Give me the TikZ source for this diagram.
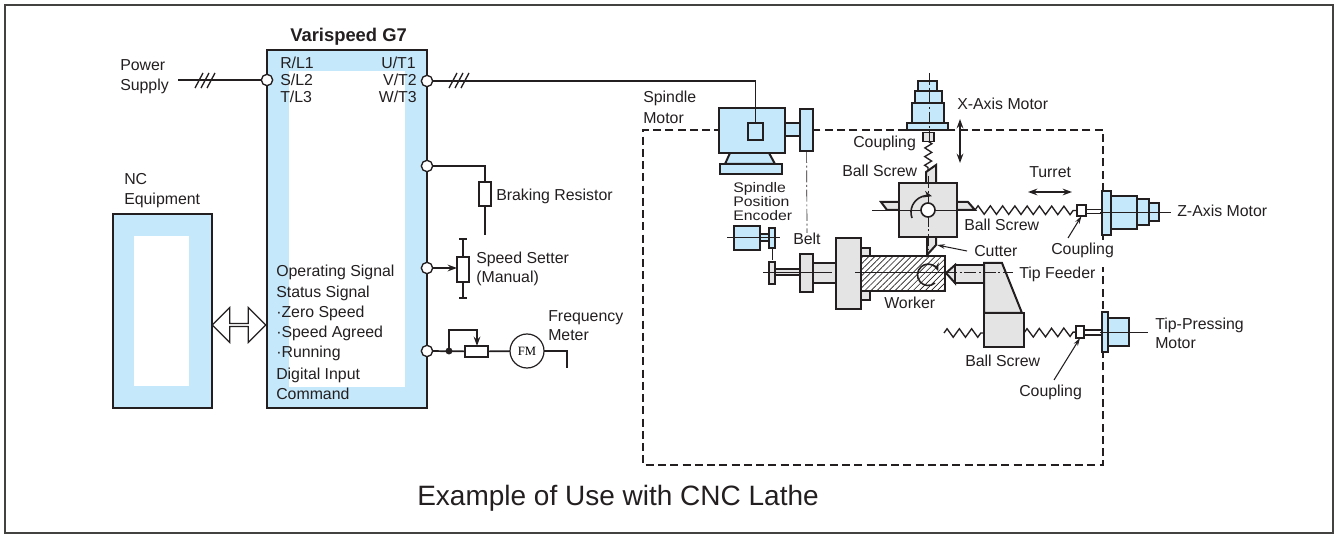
\documentclass[tikz,border=0pt]{standalone}
\usepackage{fontspec}
\setmainfont{Liberation Sans}
\newfontfamily\widefont[FakeStretch=1.14]{Liberation Sans}
\usepackage{xcolor}
\usepackage{tikz}
\usetikzlibrary{arrows.meta,shapes.arrows,decorations.pathmorphing,patterns.meta}
\definecolor{cink}{HTML}{231F20}
\definecolor{cblue}{HTML}{C6E8FB}
\definecolor{cgrey}{HTML}{E4E4E4}
\tikzset{
  sz/.style 2 args={minimum width=#1*0.75pt, minimum height=#2*0.75pt, inner sep=0pt, outer sep=0pt},
  lbl/.style={anchor=base west, inner sep=0pt, font=\fontsize{11.9}{13}\selectfont, text=cink},
  lblr/.style={anchor=base east, inner sep=0pt, font=\fontsize{11.9}{13}\selectfont, text=cink},
  small/.style={anchor=base west, inner sep=0pt, font=\widefont\fontsize{10.4}{12}\selectfont, text=cink},
  unit/.style={rectangle, draw=cink, line width=0.9pt, fill=cblue},
  hole/.style={rectangle, fill=white},
  mblue/.style={rectangle, draw=cink, line width=1.5pt, fill=cblue},
  mgrey/.style={rectangle, draw=cink, line width=1.5pt, fill=cgrey},
  mwhite/.style={rectangle, draw=cink, line width=1.1pt, fill=white},
  mpoly/.style={draw=cink, fill=cgrey, line width=1.5pt},
  term/.style={circle, draw=cink, line width=1pt, fill=white, minimum size=8.5pt, inner sep=0pt, outer sep=0pt},
  wire/.style={draw=cink, line width=1.3pt},
  arr/.style={-{Stealth[length=7pt,width=5pt]}, line width=1.3pt, draw=cink},
  darr/.style={{Stealth[length=7pt,width=5pt]}-{Stealth[length=7pt,width=5pt]}, line width=1.2pt, draw=cink},
  lead/.style={-{Stealth[length=6pt,width=3.5pt]}, line width=0.8pt, draw=cink},
  cline/.style={draw=cink, line width=0.5pt, dash pattern=on 9pt off 2pt on 1.5pt off 2pt},
  thin line/.style={draw=cink, line width=0.5pt},
  boxdash/.style={draw=cink, line width=0.9pt, dash pattern=on 6pt off 3.2pt},
  spring/.style={draw=cink, line width=1pt, decorate, decoration={zigzag, segment length=9.2pt, amplitude=3.2pt}},
  xspring/.style={draw=cink, line width=1pt, decorate, decoration={zigzag, segment length=6.5pt, amplitude=2.6pt}},
}
\begin{document}
\begin{tikzpicture}[x=0.75pt,y=-0.75pt]
  \useasboundingbox (0,0) rectangle (1338,534);
  \draw[draw=cink!85, line width=1.6pt] (5,5) rectangle (1333,533);

  % inverter and NC unit
  \node[unit, sz={160}{358}] (g7) at (347,229) {};
  \node[hole, sz={116}{316}] (g7in) at (347,229) {};
  \node[unit, line width=1.2pt, sz={99}{194}] (nc) at (162.5,311) {};
  \node[hole, sz={55.5}{150}] (ncin) at (161.7,311) {};
  \node[shape=double arrow, draw=cink, line width=0.9pt, fill=white, inner sep=0pt, outer sep=0pt,
    minimum width=26pt, minimum height=40pt, double arrow head extend=5pt] (link) at (239,325) {};

  % terminals
  \node[term] (tin) at (267,80) {};
  \node[term] (tout) at (427,81) {};
  \node[term] (tbr) at (427,166) {};
  \node[term] (tset) at (427,268) {};
  \node[term] (tfm) at (427,351) {};

  % power wiring
  \coordinate (psup) at (178,80);
  \draw[wire] (psup) -- (tin);
  \foreach \xt in {197,203,209}
    \draw[wire, line width=1pt] (\xt-2,88) -- (\xt+6,73);
  \foreach \xt in {451,457,463}
    \draw[wire, line width=1pt] (\xt-2,88) -- (\xt+6,73);

  % braking resistor
  \node[mwhite, sz={12}{24}] (rbr) at (485,194) {};
  \coordinate (rbrend) at (485,235);
  \draw[wire] (tbr) -| (rbr.north);
  \draw[wire] (rbr) -- (rbrend);

  % speed setter
  \node[mwhite, sz={12}{25}] (rset) at (463,269.5) {};
  \coordinate (settop) at (463,239);
  \coordinate (setbot) at (463,298);
  \draw[wire] (settop) -- (rset) -- (setbot);
  \draw[wire] (459,239) -- (467,239);
  \draw[wire] (459,298) -- (467,298);
  \draw[arr] (tset) -- (rset.west |- tset);

  % frequency meter
  \node[mwhite, sz={23}{11}] (rfm) at (476.5,351.5) {};
  \node[circle, draw=cink, line width=0.9pt, fill=white, minimum size=25.5pt, inner sep=0pt, outer sep=0pt,
    font=\fontspec{Liberation Serif}\fontsize{9.5}{11}\selectfont] (fm) at (527,351) {FM};
  \coordinate (fmdot) at (449,351);
  \coordinate (fmend) at (567,368);
  \draw[wire] (tfm) -- (rfm);
  \draw[wire] (rfm) -- (fm);
  \draw[wire] (fm) -- (fmend |- fm) -- (fmend);
  \fill[cink] (fmdot) circle (2.6pt);
  \draw[arr] (fmdot) -- (449,330) -- (477,330) -- (477,346);

  % enclosure of the machine
  \draw[boxdash] (1103,240) -- (1103,130) -- (643,130) -- (643,465) -- (1103,465) -- (1103,267);

  % spindle motor
  \draw[mpoly, fill=cblue] (730,153) -- (769,153) -- (775,164) -- (725,164) -- cycle;
  \node[mblue, sz={62}{10}] (spbase) at (751,169) {};
  \node[mblue, sz={66}{45}] (spm) at (752,130.5) {};
  \node[mblue, sz={15}{13}] (spshaft) at (792.5,129.5) {};
  \node[mblue, sz={13}{42}] (sppul) at (806.5,130) {};
  \node[mblue, sz={15}{17}] (spbox) at (755.5,131.5) {};
  \draw[wire] (tout) -- (755.5,81) -- (spbox);

  % encoder and belts
  \node[mblue, sz={26}{24}] (enc) at (747,238) {};
  \node[mblue, sz={10}{7}] (encsh) at (765,237.5) {};
  \node[mblue, sz={6}{20}] (encpul) at (772,238) {};
  \draw[thin line] (727,237) -- (780,237);
  \draw[cline] (sppul) -- (807,233);
  \draw[cline] (encpul) -- (772,262);

  % work spindle
  \node[mgrey, sz={6}{22}] (lpul) at (772,273) {};
  \node[mgrey, sz={25}{6}] (lsh) at (787.5,272) {};
  \node[mgrey, sz={13}{38}] (lbelt) at (806.5,273) {};
  \node[mgrey, sz={23}{20}] (lneck) at (824.5,273) {};
  \node[mgrey, sz={9}{8}] (lblk1) at (865.5,252) {};
  \node[mgrey, sz={9}{9}] (lblk2) at (865.5,295.5) {};
  \node[rectangle, draw=cink, line width=1.5pt, fill=white, pattern={Lines[angle=45,distance=3.2pt,line width=0.5pt]},
    pattern color=cink, sz={84}{35}] (work) at (903,273.5) {};
  \node[mgrey, sz={25}{71}] (chuck) at (848.5,273.5) {};
  \draw[thin line] (763,272) -- (832,272);
  \draw[thin line] (855,272) -- (945,272);
  \draw[line width=1.2pt, draw=cink, -{Stealth[length=6pt,width=5pt]}] (935,283) arc[start angle=-50, end angle=-340, radius=8pt];

  % turret and tools
  \draw[thin line] (872,210) -- (899,210);
  \draw[mpoly] (899,202) -- (881,202) -- (887,210) -- (899,210);
  \draw[mpoly] (957,202) -- (968,202) -- (975,210) -- (957,210);
  \draw[mpoly] (926,183) -- (926,172) -- (936,165) -- (936,183);
  \draw[mpoly] (927,237) -- (927,255) -- (936,245) -- (936,237);
  \node[mgrey, sz={58}{54}] (turret) at (928,210) {};
  \draw[thin line] (899,210) -- (957,210);
  \draw[cline] (928,176) -- (928,250);
  \node[circle, draw=cink, line width=1.2pt, fill=white, minimum size=10.5pt, inner sep=0pt] (bore) at (928,210) {};
  \draw[line width=1.2pt, draw=cink, -{Stealth[length=6pt,width=5pt]}] (912,218) arc[start angle=200, end angle=75, radius=12.5pt];

  % x axis motor
  \node[mblue, sz={19}{10}] (xm1) at (927.5,86) {};
  \node[mblue, sz={27}{12}] (xm2) at (928.5,97) {};
  \node[mblue, sz={32}{20}] (xm3) at (928,113) {};
  \node[mblue, sz={41}{7}] (xm4) at (927.5,126.5) {};
  \node[mwhite, fill=cgrey, sz={11}{9}] (xcoup) at (928.5,137) {};
  \draw[xspring] (xcoup) -- (928,170);
  \draw[cline] (929,73) -- (929,142);
  \draw[darr] (960,119) -- (960,163);

  % z axis motor
  \node[mblue, sz={9}{44}] (zm1) at (1106.5,213) {};
  \node[mblue, sz={26}{33}] (zm2) at (1124,212.5) {};
  \node[mblue, sz={12}{26}] (zm3) at (1143,212) {};
  \node[mblue, sz={10}{18}] (zm4) at (1154,212) {};
  \node[mwhite, sz={9}{11}] (zcoup) at (1081.5,210.5) {};
  \node[mwhite, sz={16}{4}] (zsh) at (1094,211.5) {};
  \draw[spring] (975,210) -- (zcoup);
  \draw[thin line] (1100,212) -- (1171,212);
  \draw[darr] (1028,192) -- (1072,192);

  % tip feeder
  \draw[mpoly] (955,265) -- (946,273) -- (955,283) -- cycle;
  \node[mgrey, sz={29}{18}] (feed) at (969.5,274) {};
  \draw[mpoly] (984,263) -- (1002,263) -- (1022,313) -- (984,313) -- cycle;
  \node[mgrey, sz={40}{34}] (slide) at (1004,330) {};
  \draw[cline] (945,272) -- (1013,272);
  \draw[spring] (944,333) -- (slide.west |- 944,333);
  \node[mwhite, sz={8}{12}] (tcoup) at (1080,332) {};
  \node[mwhite, sz={18}{5}] (tsh) at (1093,332.5) {};
  \draw[spring] (slide.east |- 944,333) -- (tcoup);
  \node[mblue, sz={6}{40}] (tm1) at (1105,332) {};
  \node[mblue, sz={21}{28}] (tm2) at (1118.5,332) {};
  \draw[thin line] (1100,332) -- (1148,332);

  % leaders
  \draw[lead] (967,251) -- (937,245);
  \draw[lead] (1068,238) -- (zcoup.south);
  \draw[lead] (1054,380) -- (tcoup.south);

  % labels
  \node[anchor=base west, inner sep=0pt, font=\fontsize{13.8}{15}\selectfont\bfseries, text=cink] (g7t) at (290,42) {Varispeed G7};
  \node[lbl] (l1) at (120,71) {Power};
  \node[lbl] (l2) at (120,91) {Supply};
  \node[lbl] (l3) at (124,185) {NC};
  \node[lbl] (l4) at (124,205) {Equipment};
  \node[lbl] (tr) at (280,69) {R/L1};
  \node[lbl] (ts) at (280,86) {S/L2};
  \node[lbl] (tt) at (280,103) {T/L3};
  \node[lblr] (tu) at (416,69) {U/T1};
  \node[lblr] (tv) at (417,86) {V/T2};
  \node[lblr] (tw) at (417,103) {W/T3};
  \node[lbl] (s1) at (276,277) {Operating Signal};
  \node[lbl] (s2) at (276,298) {Status Signal};
  \node[lbl] (s3) at (276,318) {·Zero Speed};
  \node[lbl] (s4) at (276,338) {·Speed Agreed};
  \node[lbl] (s5) at (276,358) {·Running};
  \node[lbl] (s6) at (276,379) {Digital Input};
  \node[lbl] (s7) at (276,399) {Command};
  \node[lbl] (b1) at (496,201) {Braking Resistor};
  \node[lbl] (b2) at (476,264) {Speed Setter};
  \node[lbl] (b3) at (476,283) {(Manual)};
  \node[lbl] (b4) at (548,322) {Frequency};
  \node[lbl] (b5) at (548,341) {Meter};
  \node[lbl] (m1) at (643,103) {Spindle};
  \node[lbl] (m2) at (643,124) {Motor};
  \node[small] (e1) at (733,193) {Spindle};
  \node[small] (e2) at (733,207) {Position};
  \node[small] (e3) at (733,221) {Encoder};
  \node[lbl] (m3) at (793,245) {Belt};
  \node[lbl] (m4) at (884,309) {Worker};
  \node[lbl] (m5) at (853,148) {Coupling};
  \node[lbl] (m6) at (842,177) {Ball Screw};
  \node[lbl] (m7) at (957,110) {X-Axis Motor};
  \node[lbl] (m8) at (1029,178) {Turret};
  \node[lbl] (m9) at (964,231) {Ball Screw};
  \node[lbl] (m10) at (974,257) {Cutter};
  \node[lbl] (m11) at (1051,255) {Coupling};
  \node[lbl] (m12) at (1177,217) {Z-Axis Motor};
  \node[lbl] (m13) at (1019,279) {Tip Feeder};
  \node[lbl] (m14) at (1155,330) {Tip-Pressing};
  \node[lbl] (m15) at (1155,349) {Motor};
  \node[lbl] (m16) at (965,367) {Ball Screw};
  \node[lbl] (m17) at (1019,397) {Coupling};
  \node[anchor=base west, inner sep=0pt, font=\fontsize{21}{23}\selectfont, text=cink] (title) at (417,505) {Example of Use with CNC Lathe};
\end{tikzpicture}
\end{document}
